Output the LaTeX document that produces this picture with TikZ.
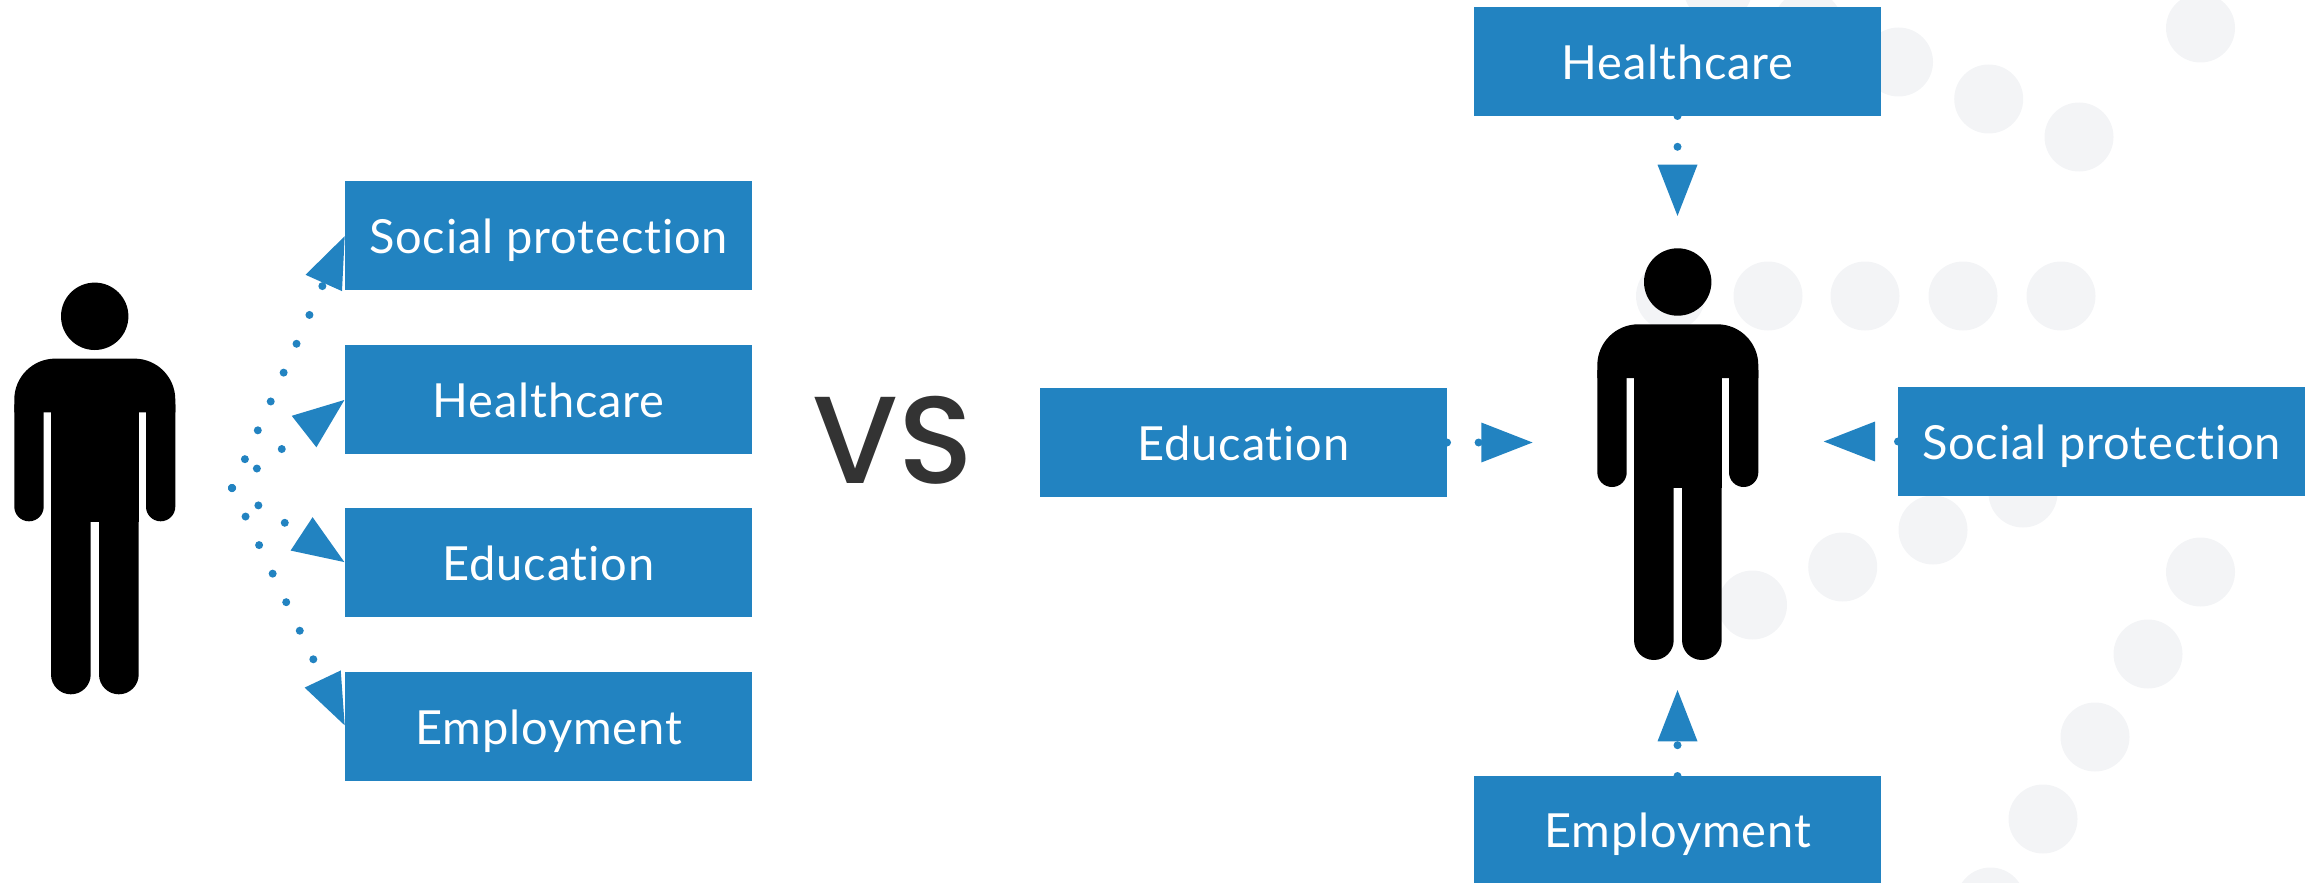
\documentclass[tikz,border=0pt]{standalone}
\usepackage{fontspec}
\setmainfont{Lato}[LetterSpace=1.8,RawFeature={-liga;-dlig;-clig}]
\newfontfamily\vsfont{Poppins Medium}
\usetikzlibrary{arrows.meta}
\definecolor{boxblue}{HTML}{2283C1}
\definecolor{dotgrey}{HTML}{F3F4F6}
\definecolor{vsgrey}{HTML}{333333}
\tikzset{
  labelbox/.style={fill=boxblue,text=white,inner sep=0pt,outer sep=0pt,minimum width=203.5pt,minimum height=54.5pt,
    font=\fontsize{23.5}{28}\selectfont,text height=18.2pt,text depth=0pt,align=center},
  dotline/.style={draw=boxblue,line width=4pt,line cap=round,dash pattern=on 0pt off 15.8pt,
    -{Triangle[length=26pt,width=18.8pt]}},
  dotlinev/.style={dotline,dash pattern=on 0pt off 15.4pt},
  person/.pic={
    \fill[black] (1677.7,282) circle[radius=16.85pt];
    \fill[black,rounded corners=20.5pt] (1597.3,378) -- (1597.3,324.3) -- (1758.3,324.3) -- (1758.3,378);
    \fill[black,rounded corners=7.32pt] (1597.3,370) -- (1597.3,487) -- (1626.7,487) -- (1626.7,370);
    \fill[black,rounded corners=7.32pt] (1729,370) -- (1729,487) -- (1758.3,487) -- (1758.3,370);
    \fill[black] (1634,360) rectangle (1721.7,488);
    \fill[black,rounded corners=9.9pt] (1634,480) -- (1634,660) -- (1673.7,660) -- (1673.7,480);
    \fill[black,rounded corners=9.9pt] (1682,480) -- (1682,660) -- (1721.7,660) -- (1721.7,480);
  }
}
\begin{document}
\begin{tikzpicture}[x=0.5pt,y=-0.5pt]
\useasboundingbox (0,0) rectangle (2312,883);
\begin{scope}
\clip (0,0) rectangle (2312,883);
\foreach \cx/\cy in {1718/-12,1808/25,1898.5/62,1988.7/99,2079/137,2200.5/28,
  1670.5/296,1768/296,1865/296,1963/296,2061/296,
  1752.5/605,1842.7/567,1933/530,2023/493,
  2200.5/572,2148/654,2095/737,2043/819,1990.5/902}
  \fill[dotgrey] (\cx,\cy) circle[radius=17.25pt];
\end{scope}
% left group
\node[labelbox] (ls) at (548.5,235.5) {Social protection};
\node[labelbox] (lh) at (548.5,399.5) {Healthcare};
\node[labelbox] (le) at (548.5,562.5) {Education};
\node[labelbox] (lm) at (548.5,726) {Employment};
\coordinate (src) at (232,488);
\path[dotline] (src) -- (ls.west);
\path[dotline] (src) -- (lh.west);
\path[dotline] (src) -- (le.west);
\path[dotline] (src) -- (lm.west);
\pic at (-1583,34.3) {person};
% VS
\node[font=\vsfont\fontsize{62}{62}\selectfont,text=vsgrey,inner sep=0pt] (vs) at (893,440) {VS};
% right group
\node[labelbox] (rh) at (1677.5,61.5) {Healthcare};
\node[labelbox] (re) at (1243.5,442.5) {Education};
\node[labelbox] (rs) at (2101.5,441.5) {Social protection};
\node[labelbox,minimum height=53.5pt] (rm) at (1677.5,829.5) {Employment};
\coordinate (th) at (1677.5,216.7);
\coordinate (te) at (1533.3,442.5);
\coordinate (ts) at (1823,441.5);
\coordinate (tm) at (1677.5,689.3);
\path[dotlinev] (rh.south) -- (th);
\path[dotline] (re.east) -- (te);
\path[dotline] (rs.west) -- (ts);
\path[dotlinev] (rm.north) -- (tm);
\pic at (0,0) {person};
\end{tikzpicture}
\end{document}
